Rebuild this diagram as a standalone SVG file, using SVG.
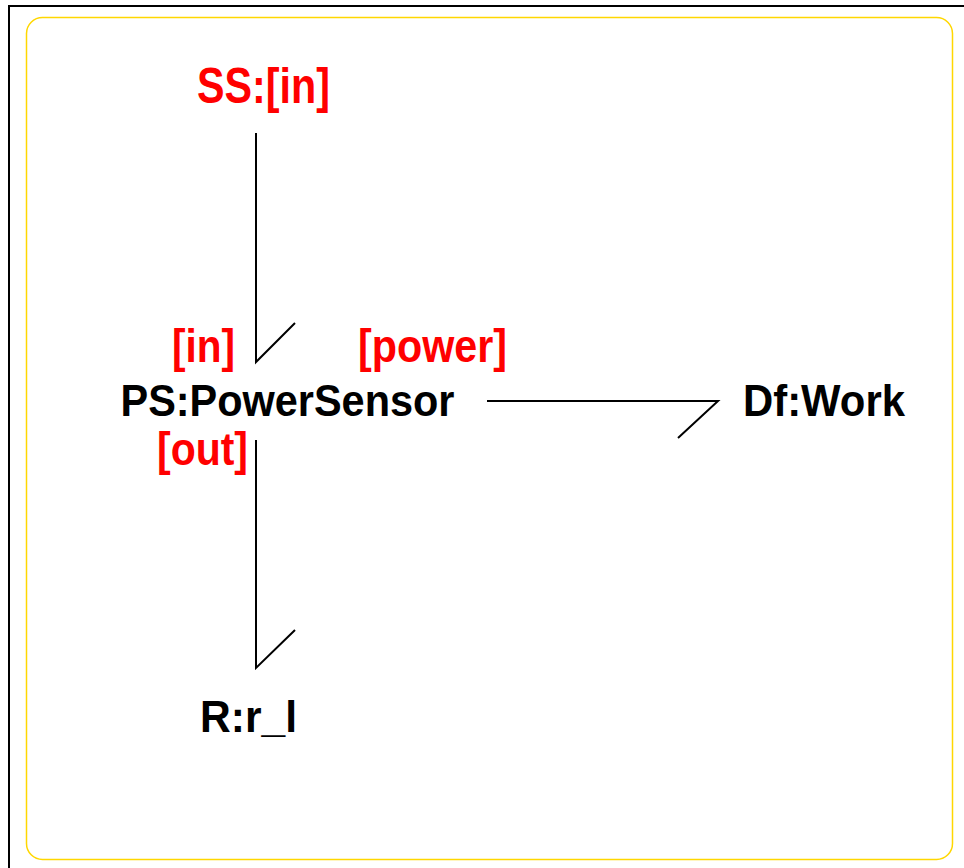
<svg xmlns="http://www.w3.org/2000/svg" width="964" height="868" viewBox="0 0 964 868">
<style>
.lbl{font-family:"Liberation Sans",Arial,Helvetica,sans-serif;font-weight:bold;font-size:44px;text-anchor:middle}
.blk{fill:#000}
.red{fill:#ff0000;font-size:47px}
.bond{fill:none;stroke:#000;stroke-width:2;stroke-linecap:butt;stroke-linejoin:miter}
</style>
<rect x="0" y="0" width="964" height="868" fill="#fff"/>
<rect x="9" y="6" width="1000" height="1000" fill="none" stroke="#000" stroke-width="2"/>
<rect x="26.5" y="17.5" width="926" height="842" rx="16" ry="16" fill="none" stroke="#FFD700" stroke-width="1.5"/>
<g id="connectors">
<polyline class="bond" points="256,133 256,362 295,323"/>
<polyline class="bond" points="487,401 718,401 678,438"/>
<polyline class="bond" points="256,440 256,668 295,630"/>
</g>
<g id="SS_in"><text class="lbl red" x="263.5" y="103" style="font-size:50px" textLength="133" lengthAdjust="spacingAndGlyphs">SS:[in]</text></g>
<g id="PS_PowerSensor">
<text class="lbl blk" x="287.5" y="416" textLength="334" lengthAdjust="spacingAndGlyphs">PS:PowerSensor</text>
<text class="lbl red" x="203.5" y="362" textLength="63" lengthAdjust="spacingAndGlyphs">[in]</text>
<text class="lbl red" x="432.5" y="362" textLength="149" lengthAdjust="spacingAndGlyphs">[power]</text>
<text class="lbl red" x="202.5" y="465" textLength="91" lengthAdjust="spacingAndGlyphs">[out]</text>
</g>
<g id="Df_Work"><text class="lbl blk" x="824" y="416" textLength="162" lengthAdjust="spacingAndGlyphs">Df:Work</text></g>
<g id="R_r_l"><text class="lbl blk" x="248.5" y="732" textLength="97" lengthAdjust="spacingAndGlyphs">R:r_l</text></g>
</svg>
